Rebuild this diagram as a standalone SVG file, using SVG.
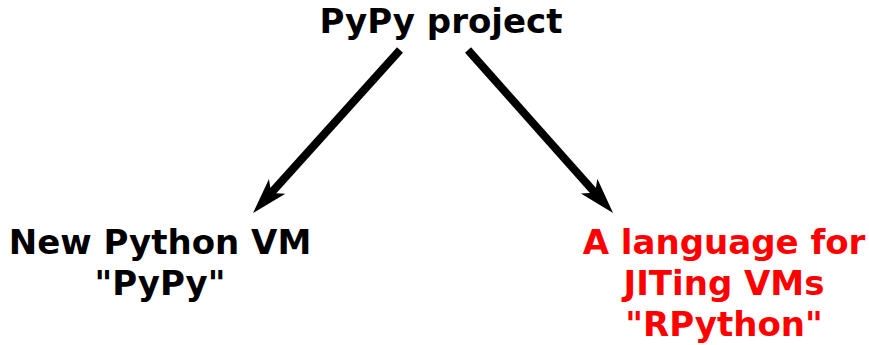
<svg xmlns="http://www.w3.org/2000/svg" width="869" height="345" viewBox="0 0 869 345">
<defs>
<style>
text{font-family:"DejaVu Sans",sans-serif;font-weight:bold;font-size:34px;text-anchor:middle}
.red{fill:#ff0000}
.blk{fill:#000000}
.edge{stroke:#000;stroke-width:8;fill:none;marker-end:url(#ah)}
</style>
<marker id="ah" markerUnits="userSpaceOnUse" orient="auto" refX="0" refY="0" markerWidth="60" markerHeight="40" viewBox="-20 -20 60 40" overflow="visible">
<path d="M24,0 L-12,-11 L-3,0 L-12,11 Z" fill="#000"/>
</marker>
</defs>
<rect width="869" height="345" fill="#fff"/>
<g id="connectors">
<line class="edge" x1="400" y1="50" x2="269.1" y2="195.2"/>
<line class="edge" x1="468" y1="50" x2="597.1" y2="195.1"/>
</g>
<g id="pypy-project">
<text class="blk" x="441" y="33">PyPy project</text>
</g>
<g id="python-vm">
<text class="blk" x="160" y="254">New Python VM</text>
<text class="blk" x="160" y="295">"PyPy"</text>
</g>
<g id="rpython">
<text class="red" x="724" y="254">A language for</text>
<text class="red" x="724" y="295">JITing VMs</text>
<text class="red" x="724" y="336">"RPython"</text>
</g>
</svg>
